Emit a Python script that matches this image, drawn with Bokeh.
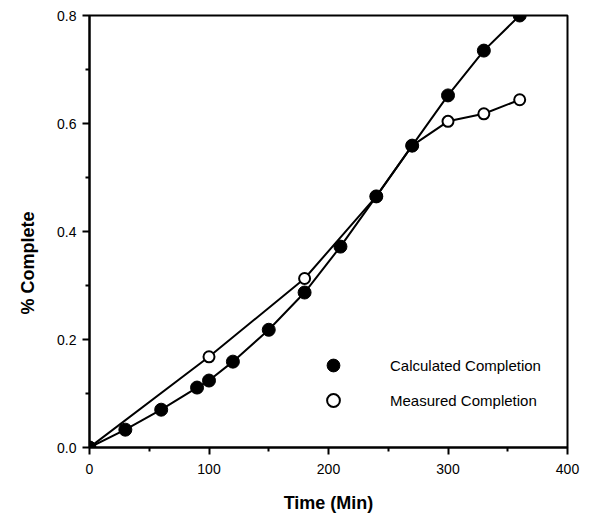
from bokeh.plotting import figure
from bokeh.models import Range1d, Legend, LegendItem, FixedTicker, CustomJSTickFormatter, Title
from bokeh.embed import file_html
from bokeh.resources import INLINE

# Data
calc_time = [0, 30, 60, 90, 100, 120, 150, 180, 210, 240, 270, 300, 330, 360]
calc_pct = [0.0, 0.033, 0.070, 0.111, 0.124, 0.159, 0.218, 0.287, 0.372, 0.465, 0.559, 0.652, 0.735, 0.800]
meas_time = [0, 100, 180, 240, 270, 300, 330, 360]
meas_pct = [0.0, 0.168, 0.313, 0.465, 0.559, 0.604, 0.618, 0.644]
x_ticks = [0, 100, 200, 300, 400]
x_minor = [50, 150, 250, 350]
y_ticks = [0.0, 0.2, 0.4, 0.6, 0.8]
y_minor = [0.1, 0.3, 0.5, 0.7]

FONT = "Liberation Sans"

p = figure(width=597, height=518, output_backend="svg", toolbar_location=None,
           x_range=Range1d(0, 400), y_range=Range1d(0, 0.8))
p.min_border_left = 89
p.min_border_right = 30
p.min_border_top = 15
p.min_border_bottom = 71
p.grid.visible = False
p.outline_line_color = "black"
p.outline_line_width = 2
p.background_fill_color = "white"
p.border_fill_color = "white"

p.xaxis.ticker = FixedTicker(ticks=x_ticks, minor_ticks=x_minor)
p.yaxis.ticker = FixedTicker(ticks=y_ticks, minor_ticks=y_minor)
p.yaxis.formatter = CustomJSTickFormatter(code="return tick.toFixed(1);")

for ax in (p.xaxis[0], p.yaxis[0]):
    ax.axis_line_width = 2
    ax.axis_line_color = "black"
    ax.major_tick_line_width = 2
    ax.minor_tick_line_width = 2
    ax.major_tick_in = 0
    ax.major_tick_out = 7
    ax.minor_tick_in = 0
    ax.minor_tick_out = 4
    ax.major_label_text_font = FONT
    ax.major_label_text_font_size = "14px"
    ax.major_label_text_color = "black"
    ax.axis_label_text_font = FONT
    ax.axis_label_text_font_style = "bold"
    ax.axis_label_text_font_size = "18px"
    ax.axis_label_text_color = "black"

p.xaxis.axis_label = "Time (Min)"
p.xaxis.major_label_standoff = 9
p.xaxis.axis_label_standoff = 16
p.yaxis.major_label_standoff = 6

# y-axis title, placed lower than centre as in the original
ytitle = Title(text="% Complete", align="left", offset=133, vertical_align="middle",
               text_font=FONT, text_font_style="bold", text_font_size="18px",
               text_color="black", standoff=31)
p.add_layout(ytitle, "left")

p.line(calc_time, calc_pct, line_color="black", line_width=2)
p.line(meas_time, meas_pct, line_color="black", line_width=2)
r_meas = p.scatter(meas_time, meas_pct, size=11, marker="circle",
                   fill_color="white", line_color="black", line_width=2)
r_calc = p.scatter(calc_time, calc_pct, size=13, marker="circle",
                   fill_color="black", line_color="black")

legend = Legend(items=[
    LegendItem(label="Calculated Completion", renderers=[r_calc]),
    LegendItem(label="Measured Completion", renderers=[r_meas]),
], location=(228, 31))
legend.border_line_color = None
legend.background_fill_alpha = 0
legend.label_text_font = FONT
legend.label_text_font_size = "15px"
legend.label_text_color = "black"
legend.glyph_width = 32
legend.glyph_height = 32
legend.label_height = 32
legend.label_standoff = 41
legend.spacing = 3
legend.padding = 0
p.add_layout(legend, "center")

open("out.html", "w").write(file_html(p, INLINE))
